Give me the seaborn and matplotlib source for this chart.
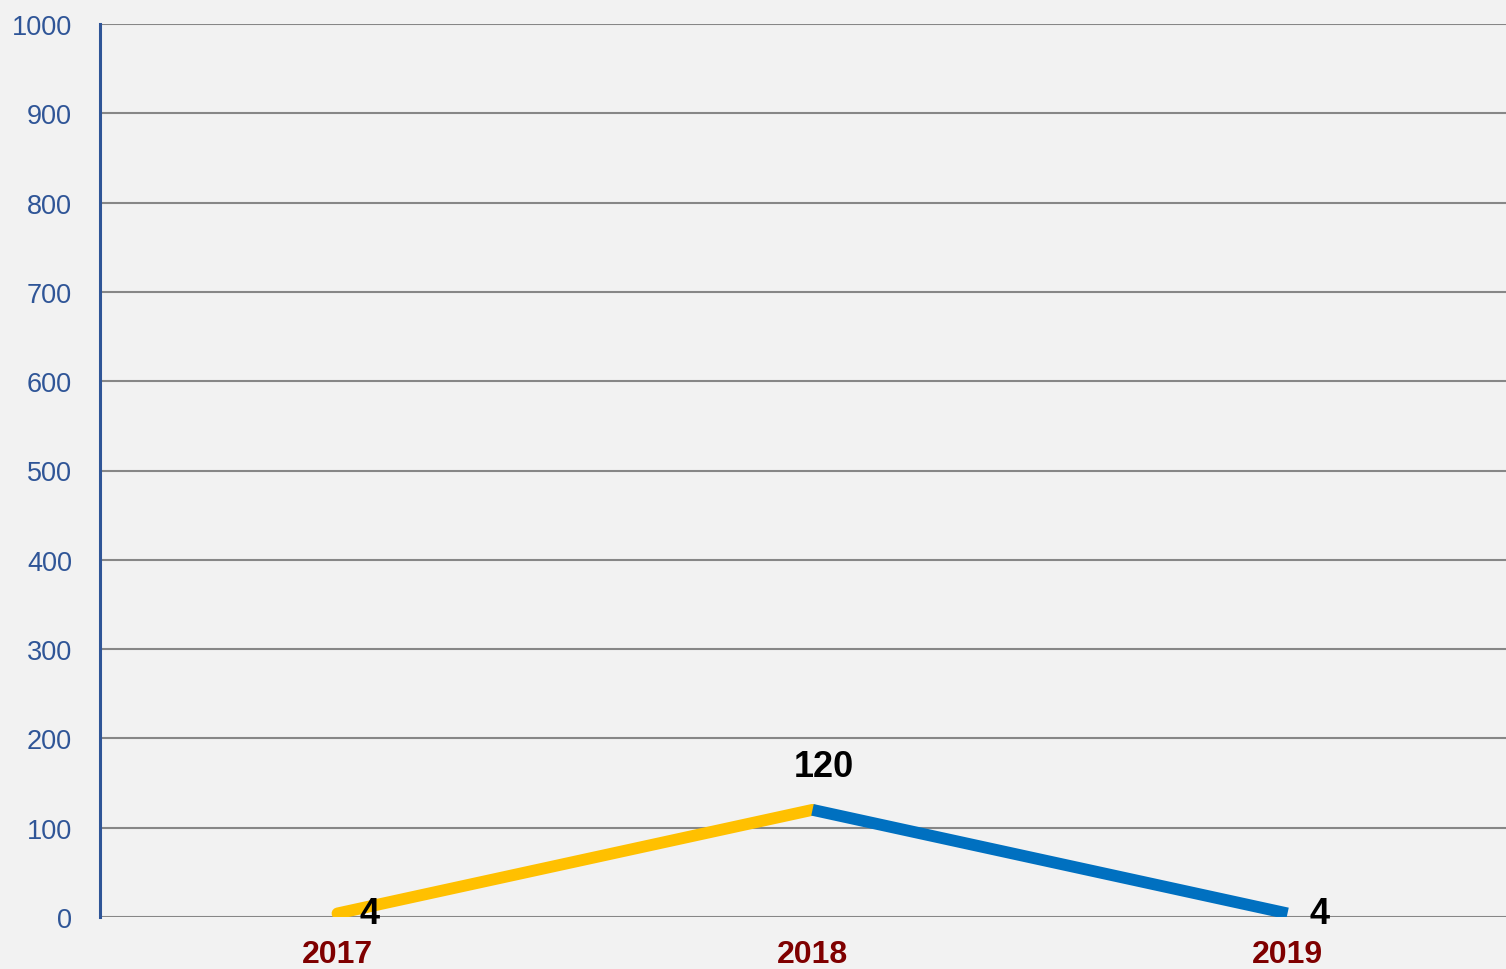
import matplotlib
matplotlib.use("Agg")
import matplotlib.pyplot as plt
import seaborn as sns
import pandas as pd
import numpy as np

years = ["2017", "2018", "2019"]
values = [4, 120, 4]
segment_colors = ["#FFC000", "#0070C0"]
y_ticks = [0, 100, 200, 300, 400, 500, 600, 700, 800, 900, 1000]

sns.set_theme(style="white")
plt.rcParams["font.family"] = ["Liberation Sans", "DejaVu Sans"]

W, H = 1506, 970
fig = plt.figure(figsize=(W / 100, H / 100), dpi=100, facecolor="#F2F2F2")
ax = fig.add_axes([100 / W, (H - 918) / H, (W - 100) / W, (918 - 25) / H])
ax.set_facecolor("#F2F2F2")

# Build segment table from the data
rows = []
for s in range(len(years) - 1):
    for i in (s, s + 1):
        rows.append({"pos": i, "value": values[i], "seg": f"s{s}"})
df = pd.DataFrame(rows)

for s in range(len(years) - 1):
    sub = df[df["seg"] == f"s{s}"]
    sns.lineplot(data=sub, x="pos", y="value", ax=ax, color=segment_colors[s],
                 linewidth=8.5, legend=False, zorder=3,
                 solid_capstyle="round" if s == 0 else "butt")

ax.set_ylim(0, 1000)
ax.set_yticks(y_ticks)
ax.set_yticklabels([str(t) for t in y_ticks], color="#2F5597", fontsize=19.5)
# x positions: -0.5 at left edge, band width 475px
ax.set_xlim(-0.5, 2.5 + (W - 1525) / 475)
ax.set_xticks(range(len(years)))
ax.set_xticklabels(years, color="#7F0000", fontsize=23, fontweight="bold")
ax.tick_params(axis="x", length=0, pad=16)
ax.tick_params(axis="y", length=0, pad=20)
ax.set_xlabel("")
ax.set_ylabel("")

ax.yaxis.grid(True, color="#878787", linewidth=1.5)
ax.set_axisbelow(True)
for side in ["top", "right", "bottom"]:
    ax.spines[side].set_visible(False)
ax.spines["left"].set_color("#2F5597")
ax.spines["left"].set_linewidth(2.2)

# data labels
ax.annotate(str(values[0]), (0, values[0]), xytext=(22, 0), textcoords="offset pixels",
            ha="left", va="center", fontsize=26, fontweight="bold", color="black", zorder=5)
ax.annotate(str(values[1]), (1, values[1]), xytext=(11, 26), textcoords="offset pixels",
            ha="center", va="bottom", fontsize=26, fontweight="bold", color="black", zorder=5)
ax.annotate(str(values[2]), (2, values[2]), xytext=(22, 0), textcoords="offset pixels",
            ha="left", va="center", fontsize=26, fontweight="bold", color="black", zorder=5)

fig.savefig("out.png", dpi=100, facecolor="#F2F2F2")
